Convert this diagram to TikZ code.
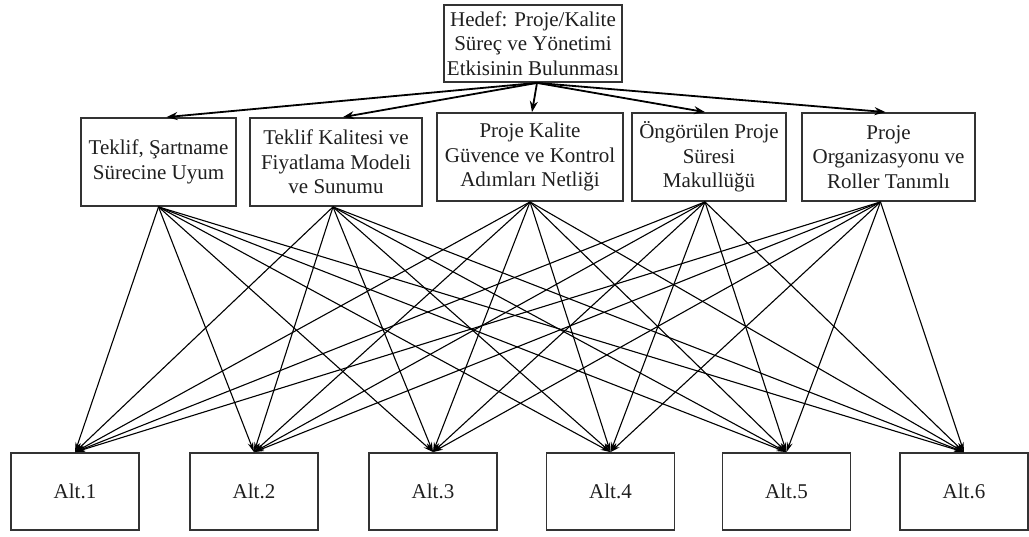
\documentclass[tikz,border=0pt]{standalone}
\usepackage{fontspec}
\setmainfont{Liberation Serif}
\usetikzlibrary{arrows.meta}
\begin{document}
\begin{tikzpicture}[x=1pt,y=-1pt,
  box/.style={draw=black!80, line width=1.8pt, fill=white, align=center,
    inner sep=0pt, font=\fontsize{21}{24.5}\selectfont, text=black!88},
  goal/.style={box, minimum width=178pt, minimum height=77pt},
  crit/.style={box, minimum height=88pt},
  alt/.style={box, minimum width=128pt, minimum height=77pt},
  toparrow/.style={line width=1.8pt, -{Stealth[length=11pt,width=8pt]}},
  link/.style={line width=1.1pt, -{Stealth[length=10pt,width=5.5pt]}}]

\fill[white] (0,0) rectangle (1029,536);
\useasboundingbox (0,0) rectangle (1029,536);

% alternatives
\node[alt] (a1) at (75,491.5) {Alt.1};
\node[alt] (a2) at (254,491.5) {Alt.2};
\node[alt] (a3) at (433,491.5) {Alt.3};
\node[alt] (a4) at (610.5,491.5) {Alt.4};
\node[alt] (a5) at (786.5,491.5) {Alt.5};
\node[alt] (a6) at (964,491.5) {Alt.6};

% criteria
\node[crit, minimum width=155pt] (c1) at (158.5,162) {Teklif, Şartname\\Sürecine Uyum};
\node[crit, minimum width=172pt] (c2) at (336,162) {Teklif Kalitesi ve\\Fiyatlama Modeli\\ve Sunumu};
\node[crit, minimum width=186pt] (c3) at (530,157) {Proje Kalite\\Güvence ve Kontrol\\Adımları Netliği};
\node[crit, minimum width=154pt] (c4) at (709,157) {Öngörülen Proje\\Süresi\\Makullüğü};
\node[crit, minimum width=173pt] (c5) at (888.5,157) {Proje\\Organizasyonu ve\\Roller Tanımlı};

% goal
\node[goal] (goal) at (533,43.5) {Hedef: Proje/Kalite\\Süreç ve Yönetimi\\Etkisinin Bulunması};

% goal to criteria
\draw[toparrow] ([xshift=4pt]goal.south) -- ([xshift=8pt]c1.north);
\draw[toparrow] ([xshift=4pt]goal.south) -- ([xshift=7pt]c2.north);
\draw[toparrow] ([xshift=4pt]goal.south) -- ([xshift=2pt]c3.north);
\draw[toparrow] ([xshift=4pt]goal.south) -- ([xshift=-4pt]c4.north);
\draw[toparrow] ([xshift=4pt]goal.south) -- ([xshift=-3pt]c5.north);

% criteria to alternatives
\foreach \c/\dx in {c1/0, c2/-3, c3/0, c4/-4, c5/-8} {
  \foreach \a in {a1,a2,a3,a4,a5,a6} {
    \draw[link] ([xshift=\dx pt]\c.south) -- (\a.north);
  }
}
\end{tikzpicture}
\end{document}
